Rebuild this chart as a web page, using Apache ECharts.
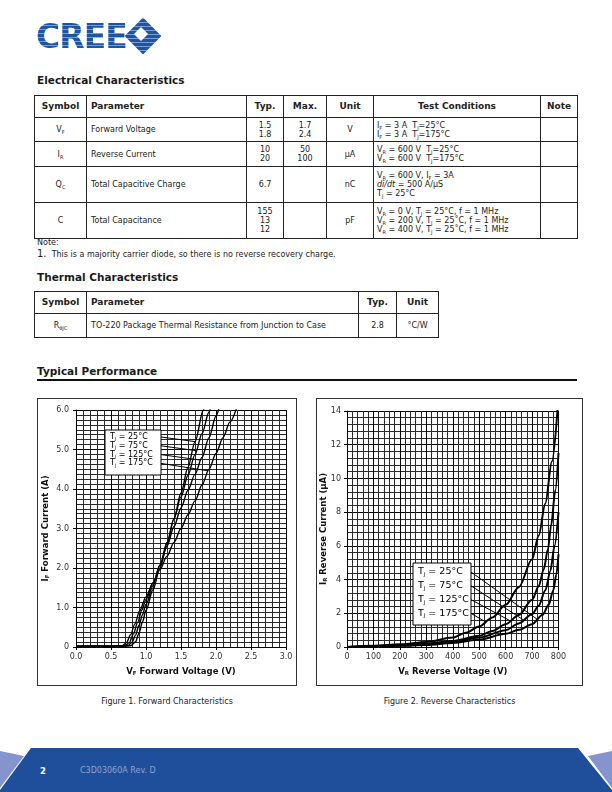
<!DOCTYPE html>
<html>
<head>
<meta charset="utf-8">
<script src="https://cdn.jsdelivr.net/npm/echarts@6/dist/echarts.min.js"></script>
<style>
  body { margin: 0; width: 612px; height: 792px; position: relative; background: #fff; overflow: hidden;
         font-family: "DejaVu Sans", Verdana, sans-serif; color: #222; }
  .abs { position: absolute; }
  .head { position: absolute; margin: 0; font-size: 10.5px; font-weight: bold; color: #1a1a1a; line-height: 12px; }
  table { position: absolute; border-collapse: collapse; table-layout: fixed; font-size: 8px; }
  td, th { border: 1px solid #222; padding: 0 3px; line-height: 9px; vertical-align: middle; white-space: nowrap; }
  th { font-size: 9px; font-weight: bold; text-align: center; }
  .c { text-align: center; }
  .l { text-align: left; padding-left: 4px; }
  sub { font-size: 5px; vertical-align: -2px; line-height: 0; }
  .frame { position: absolute; border: 1px solid #333; box-sizing: border-box; }
  .cap { position: absolute; font-size: 8px; text-align: center; width: 260px; }
  .logo { position: absolute; left: 36px; top: 18px; font-size: 33px; font-weight: bold; letter-spacing: -1px;
          font-family: "DejaVu Sans", sans-serif; line-height: 38px;
          background: repeating-linear-gradient(to bottom, #1c55a3 0px, #1c55a3 3px, #7d9dd0 3px, #7d9dd0 4px);
          -webkit-background-clip: text; background-clip: text; color: transparent; }
</style>
</head>
<body>

<div class="logo">CREE</div>
<div class="abs" style="left:130px;top:23px;width:26px;height:26px;transform:rotate(45deg);
     background:repeating-linear-gradient(-45deg,#1c55a3 0px,#1c55a3 3px,#7d9dd0 3px,#7d9dd0 4px);"></div>
<div class="abs" style="left:136px;top:29px;width:10px;height:10px;transform:rotate(45deg);background:#fff;"></div>

<div class="head" style="left:37px;top:74px;">Electrical Characteristics</div>

<table style="left:34px;top:95px;width:543px;">
  <colgroup><col style="width:52px"><col style="width:160px"><col style="width:37px"><col style="width:43px"><col style="width:47px"><col style="width:167px"><col style="width:37px"></colgroup>
  <tr style="height:22px"><th>Symbol</th><th class="l" style="text-align:left">Parameter</th><th>Typ.</th><th>Max.</th><th>Unit</th><th>Test Conditions</th><th>Note</th></tr>
  <tr style="height:24px"><td class="c">V<sub>F</sub></td><td class="l">Forward Voltage</td><td class="c">1.5<br>1.8</td><td class="c">1.7<br>2.4</td><td class="c">V</td>
      <td>I<sub>F</sub> = 3 A&nbsp; T<sub>J</sub>=25°C<br>I<sub>F</sub> = 3 A&nbsp; T<sub>J</sub>=175°C</td><td></td></tr>
  <tr style="height:25px"><td class="c">I<sub>R</sub></td><td class="l">Reverse Current</td><td class="c">10<br>20</td><td class="c">50<br>100</td><td class="c">µA</td>
      <td>V<sub>R</sub> = 600 V&nbsp; T<sub>J</sub>=25°C<br>V<sub>R</sub> = 600 V&nbsp; T<sub>J</sub>=175°C</td><td></td></tr>
  <tr style="height:36px"><td class="c">Q<sub>C</sub></td><td class="l">Total Capacitive Charge</td><td class="c">6.7</td><td></td><td class="c">nC</td>
      <td>V<sub>R</sub> = 600 V, I<sub>F</sub> = 3A<br><i>di/dt</i> = 500 A/µS<br>T<sub>J</sub> = 25°C</td><td></td></tr>
  <tr style="height:36px"><td class="c">C</td><td class="l">Total Capacitance</td><td class="c">155<br>13<br>12</td><td></td><td class="c">pF</td>
      <td>V<sub>R</sub> = 0 V, T<sub>J</sub> = 25°C, f = 1 MHz<br>V<sub>R</sub> = 200 V, T<sub>J</sub> = 25˚C, f = 1 MHz<br>V<sub>R</sub> = 400 V, T<sub>J</sub> = 25˚C, f = 1 MHz</td><td></td></tr>
</table>

<div class="abs" style="left:37px;top:238px;font-size:8px;line-height:10px;">Note:</div>
<div class="abs" style="left:37px;top:248px;font-size:8px;line-height:12px;"><span style="font-size:10px">1.</span>&nbsp; This is a majority carrier diode, so there is no reverse recovery charge.</div>

<div class="head" style="left:37px;top:271px;">Thermal Characteristics</div>

<table style="left:34px;top:291px;width:404px;">
  <colgroup><col style="width:52px"><col style="width:272px"><col style="width:38px"><col style="width:42px"></colgroup>
  <tr style="height:22px"><th>Symbol</th><th class="l" style="text-align:left">Parameter</th><th>Typ.</th><th>Unit</th></tr>
  <tr style="height:24px"><td class="c">R<sub>θJC</sub></td><td class="l">TO-220 Package Thermal Resistance from Junction to Case</td><td class="c">2.8</td><td class="c">°C/W</td></tr>
</table>

<div class="head" style="left:37px;top:365px;">Typical Performance</div>
<div class="abs" style="left:37px;top:379px;width:540px;height:2px;background:#111;"></div>

<div class="frame" style="left:37px;top:398px;width:260px;height:288px;"></div>
<div class="frame" style="left:316px;top:398px;width:267px;height:288px;"></div>
<div id="fwd" class="abs" style="left:37px;top:398px;width:260px;height:288px;"></div>
<div id="rev" class="abs" style="left:316px;top:398px;width:267px;height:288px;"></div>

<div class="cap" style="left:37px;top:697px;">Figure 1. Forward Characteristics</div>
<div class="cap" style="left:316px;top:697px;width:267px;">Figure 2. Reverse Characteristics</div>

<div class="abs" style="left:0;top:748px;width:612px;height:44px;background:#1f4f9b;
     clip-path:polygon(31px 0, 578px 0, 612px 42px, 612px 44px, 0 44px, 0 42px);"></div>
<div class="abs" style="left:0;top:748px;width:30px;height:44px;background:#8593cf;
     clip-path:polygon(0 3px, 24px 8px, 0 40px);"></div>
<div class="abs" style="left:582px;top:748px;width:30px;height:44px;background:#8593cf;
     clip-path:polygon(30px 3px, 6px 8px, 30px 40px);"></div>
<div class="abs" style="left:40px;top:766px;font-size:8.5px;font-weight:bold;color:#fff;">2</div>
<div class="abs" style="left:80px;top:766px;font-size:8px;color:#8ea3cf;">C3D03060A Rev. D</div>

<script>
// junction temperatures, in legend order
const tjNames = ['25°C', '75°C', '125°C', '175°C'];

// Figure 1: forward current (A) vs forward voltage (V)
const fwd25 = [[0, 0.02], [0.6, 0.02], [0.78, 0.03], [0.85, 0.13], [0.9, 0.35], [0.95, 0.64], [1.0, 0.93], [1.1, 1.45], [1.2, 2.0], [1.3, 2.6], [1.4, 3.25], [1.5, 3.9], [1.6, 4.55], [1.7, 5.2], [1.82, 6.0], [1.86, 6.25]];
const fwd75 = [[0, 0.02], [0.6, 0.02], [0.74, 0.03], [0.8, 0.12], [0.85, 0.3], [0.9, 0.55], [0.95, 0.82], [1.0, 1.08], [1.1, 1.55], [1.2, 2.08], [1.3, 2.65], [1.4, 3.25], [1.5, 3.8], [1.6, 4.35], [1.7, 4.87], [1.8, 5.4], [1.9, 5.95], [1.94, 6.2]];
const fwd125 = [[0, 0.02], [0.55, 0.02], [0.7, 0.03], [0.76, 0.11], [0.82, 0.33], [0.88, 0.62], [0.94, 0.93], [1.0, 1.2], [1.1, 1.62], [1.2, 2.07], [1.3, 2.55], [1.4, 3.05], [1.5, 3.52], [1.6, 3.97], [1.7, 4.37], [1.8, 4.8], [1.9, 5.3], [2.0, 5.85], [2.05, 6.1]];
const fwd175 = [[0, 0.02], [0.5, 0.02], [0.66, 0.03], [0.72, 0.11], [0.78, 0.31], [0.84, 0.58], [0.91, 0.92], [1.0, 1.27], [1.1, 1.62], [1.2, 1.96], [1.3, 2.3], [1.4, 2.65], [1.5, 3.0], [1.6, 3.35], [1.7, 3.7], [1.8, 4.1], [1.9, 4.5], [2.0, 4.9], [2.1, 5.3], [2.2, 5.7], [2.3, 6.08]];

// Figure 2: reverse current (uA) vs reverse voltage (V)
const rev25 = [[0, 0], [100, 0.03], [200, 0.07], [300, 0.12], [400, 0.24], [500, 0.44], [600, 0.78], [650, 1.02], [700, 1.35], [740, 1.92], [763, 2.5], [780, 3.35], [792, 4.3], [800, 5.5]];
const rev75 = [[0, 0], [100, 0.04], [200, 0.09], [300, 0.16], [400, 0.3], [500, 0.56], [600, 1.0], [650, 1.4], [700, 1.95], [725, 2.45], [750, 3.35], [769, 4.5], [785, 6.0], [800, 8.0]];
const rev125 = [[0, 0], [100, 0.05], [200, 0.11], [300, 0.2], [400, 0.36], [500, 0.66], [550, 0.95], [600, 1.35], [650, 1.9], [700, 2.8], [725, 3.6], [744, 4.6], [760, 5.8], [772, 7.2], [788, 9.3], [800, 11.5]];
const rev175 = [[0, 0], [100, 0.07], [200, 0.16], [300, 0.3], [400, 0.56], [450, 0.85], [500, 1.22], [550, 1.75], [600, 2.5], [650, 3.55], [700, 5.2], [725, 6.6], [750, 8.5], [775, 11], [797, 14.2]];

// where each legend leader meets its curve
const fwdLeaderAmps = [5.2, 4.97, 4.73, 4.46];
const revLeaderVolts = [720, 668, 618, 525];

const FONT = '"DejaVu Sans", Verdana, sans-serif';

function xAtY(curve, y) {
  for (let i = 1; i < curve.length; i++) {
    const a = curve[i - 1], b = curve[i];
    if (y >= a[1] && y <= b[1]) return a[0] + (b[0] - a[0]) * (y - a[1]) / (b[1] - a[1]);
  }
  return curve[curve.length - 1][0];
}
function yAtX(curve, x) {
  for (let i = 1; i < curve.length; i++) {
    const a = curve[i - 1], b = curve[i];
    if (x >= a[0] && x <= b[0]) return a[1] + (b[1] - a[1]) * (x - a[0]) / (b[0] - a[0]);
  }
  return curve[curve.length - 1][1];
}

function curveSeries(data, width) {
  return {
    type: 'line', data: data, showSymbol: false, silent: true,
    smooth: 0.3, smoothMonotone: 'x',
    lineStyle: { color: '#000', width: width }
  };
}

function axisBase(min, max, interval, minorSplit, fmt) {
  return {
    type: 'value', min: min, max: max, interval: interval,
    axisLine: { show: true, lineStyle: { color: '#000', width: 1 } },
    axisTick: { show: true, length: 3, lineStyle: { color: '#000' } },
    axisLabel: { color: '#333', fontSize: 8, fontFamily: FONT, formatter: fmt },
    splitLine: { show: true, lineStyle: { color: '#000', width: 1 } },
    minorTick: { show: false, splitNumber: minorSplit },
    minorSplitLine: { show: true, lineStyle: { color: '#2a2a2a', width: 1 } },
    nameLocation: 'middle',
    nameMoveOverlap: false,
    nameTextStyle: {
      fontFamily: FONT,
      rich: {
        b: { fontSize: 8.5, fontWeight: 'bold', color: '#111', fontFamily: FONT },
        s: { fontSize: 5.5, fontWeight: 'bold', color: '#111', fontFamily: FONT, padding: [5, 0, 0, 0] }
      }
    }
  };
}

function legendGraphic(chart, box, fontSize, lineGap, curves, ends) {
  const els = [{
    type: 'rect', shape: { x: box.x, y: box.y, width: box.w, height: box.h },
    style: { fill: '#fff', stroke: '#000', lineWidth: 1 }, z: 100
  }];
  tjNames.forEach(function (name, i) {
    const cy = box.y + box.pad + i * lineGap;
    els.push({
      type: 'text', x: box.x + 5, y: cy, z: 101,
      style: {
        text: '{t|T}{j|J}{t| = ' + name + '}', verticalAlign: 'middle',
        rich: {
          t: { fontSize: fontSize, fontFamily: FONT, fill: '#000' },
          j: { fontSize: fontSize * 0.55, fontFamily: FONT, fill: '#000', padding: [fontSize * 0.55, 0, 0, 0] }
        }
      }
    });
    const end = chart.convertToPixel({ gridIndex: 0 }, ends[i]);
    els.push({
      type: 'line', z: 99,
      shape: { x1: box.x + box.w, y1: cy, x2: end[0], y2: end[1] },
      style: { stroke: '#000', lineWidth: 1 }
    });
  });
  chart.setOption({ graphic: els });
}

// ---- Figure 1
const fwdChart = echarts.init(document.getElementById('fwd'));
const fwdCurves = [fwd25, fwd75, fwd125, fwd175];
const fx = axisBase(0, 3, 0.5, 5, v => v.toFixed(1));
fx.name = '{b|V}{s|F}{b| Forward Voltage (V)}';
fx.nameGap = 19;
fx.axisLabel.margin = 6;
const fy = axisBase(0, 6, 1, 8, v => v === 0 ? '0' : v.toFixed(1));
fy.name = '{b|I}{s|F}{b| Forward Current (A)}';
fy.nameGap = 25;
fy.nameRotate = 90;
fy.axisLabel.margin = 7;
fwdChart.setOption({
  animation: false,
  grid: { left: 39, right: 11, top: 12, bottom: 39, containLabel: false, outerBoundsMode: 'none' },
  xAxis: fx,
  yAxis: fy,
  series: fwdCurves.map(c => curveSeries(c, 1.4))
});
legendGraphic(fwdChart, { x: 68, y: 32, w: 56, h: 45, pad: 7 }, 8, 8.8,
  fwdCurves, fwdCurves.map((c, i) => [xAtY(c, fwdLeaderAmps[i]), fwdLeaderAmps[i]]));

// ---- Figure 2
const revChart = echarts.init(document.getElementById('rev'));
const revCurves = [rev25, rev75, rev125, rev175];
const rx = axisBase(0, 800, 100, 5, v => String(v));
rx.name = '{b|V}{s|R}{b| Reverse Voltage (V)}';
rx.nameGap = 19;
rx.axisLabel.margin = 6;
const ry = axisBase(0, 14, 2, 5, v => String(v));
ry.name = '{b|I}{s|R}{b| Reverse Current (µA)}';
ry.nameGap = 18;
ry.nameRotate = 90;
ry.axisLabel.margin = 6;
revChart.setOption({
  animation: false,
  grid: { left: 31, right: 24.5, top: 13, bottom: 39, containLabel: false, outerBoundsMode: 'none' },
  xAxis: rx,
  yAxis: ry,
  series: revCurves.map(c => curveSeries(c, 2))
});
legendGraphic(revChart, { x: 97, y: 165, w: 58, h: 62, pad: 9, }, 9.5, 13.8,
  revCurves, revCurves.map((c, i) => [revLeaderVolts[i], yAtX(c, revLeaderVolts[i])]));
</script>
</body>
</html>
